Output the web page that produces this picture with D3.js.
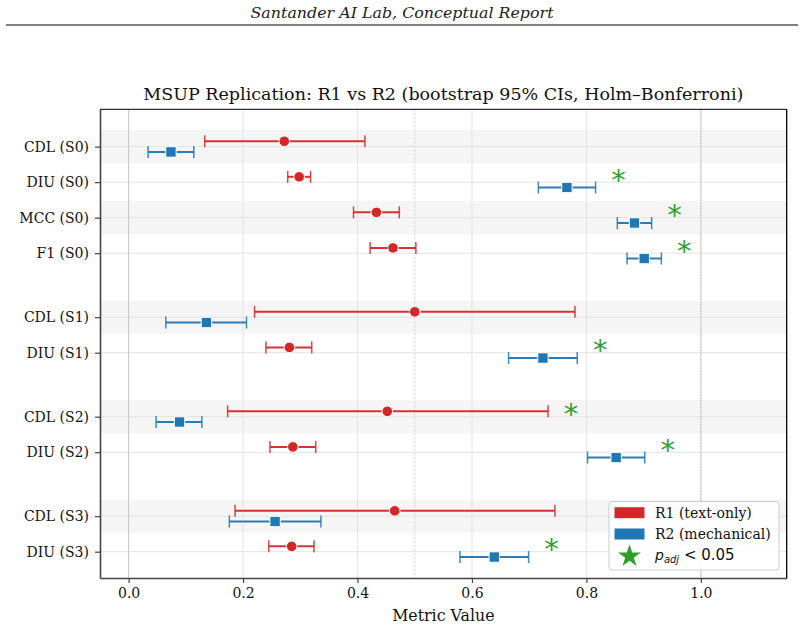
<!DOCTYPE html>
<html>
<head>
<meta charset="utf-8">
<script src="https://cdn.jsdelivr.net/npm/d3@7"></script>
<style>
  html, body { margin: 0; padding: 0; background: #fff; }
  svg { display: block; }
</style>
</head>
<body>
<div id="chart"></div>
<script>
// ---------- data ----------
const labels = ["CDL (S0)","DIU (S0)","MCC (S0)","F1 (S0)","CDL (S1)","DIU (S1)","CDL (S2)","DIU (S2)","CDL (S3)","DIU (S3)"];
const groups = ["S0","S0","S0","S0","S1","S1","S2","S2","S3","S3"];
const r1Mean = [0.272,0.298,0.433,0.462,0.500,0.281,0.452,0.287,0.465,0.285];
const r1Lo   = [0.133,0.278,0.393,0.422,0.220,0.240,0.173,0.247,0.186,0.245];
const r1Hi   = [0.413,0.318,0.473,0.502,0.780,0.320,0.733,0.327,0.745,0.324];
const r2Mean = [0.074,0.766,0.884,0.901,0.136,0.724,0.089,0.852,0.256,0.639];
const r2Lo   = [0.034,0.716,0.854,0.871,0.065,0.664,0.048,0.802,0.176,0.579];
const r2Hi   = [0.114,0.816,0.914,0.931,0.206,0.784,0.128,0.902,0.336,0.699];
const significant = [false,true,true,true,false,true,true,true,false,true];
const xTicks = [0.0,0.2,0.4,0.6,0.8,1.0];
const seriesNames = ["R1 (text-only)","R2 (mechanical)"];
const title = "MSUP Replication: R1 vs R2 (bootstrap 95% CIs, Holm\u2013Bonferroni)";
const header = "Santander AI Lab, Conceptual Report";
const xLabel = "Metric Value";

// ---------- layout ----------
const W = 804, H = 628;
const C1 = "#d62728", C2 = "#1f77b4", CG = "#2ca02c";
const serif = "'DejaVu Serif', serif";
const sans = "'DejaVu Sans', sans-serif";
const GROUP_GAP = 0.8, OFF = 0.15;

// category positions with extra gap between groups
const pos = [];
labels.forEach((l, i) => {
  if (i === 0) pos.push(0);
  else pos.push(pos[i-1] + 1 + (groups[i] !== groups[i-1] ? GROUP_GAP : 0));
});

const svg = d3.select("#chart").append("svg").attr("width", W).attr("height", H);

const pL = 100, pR = 786.7, pT = 109.3, pB = 578;
const x = d3.scaleLinear().domain([-0.05, 1.15]).range([pL, pR]);
const y = d3.scaleLinear().domain([-1.05, 12.14]).range([pT, pB]);

// header
svg.append("text").attr("x", 402).attr("y", 18).attr("text-anchor", "middle")
  .attr("font-family", serif).attr("font-style", "italic").attr("font-size", 14.5)
  .attr("textLength", 303).attr("lengthAdjust", "spacingAndGlyphs")
  .attr("fill", "#222").text(header);
svg.append("line").attr("x1", 6).attr("x2", 798).attr("y1", 25).attr("y2", 25)
  .attr("stroke", "#000").attr("stroke-width", 1.2);

// plot clip
svg.append("defs").append("clipPath").attr("id", "clip")
  .append("rect").attr("x", pL).attr("y", pT).attr("width", pR-pL).attr("height", pB-pT);
const plot = svg.append("g").attr("clip-path", "url(#clip)");

// alternating bands
plot.selectAll("rect.band").data(pos.filter((p, i) => i % 2 === 0)).enter()
  .append("rect").attr("class", "band")
  .attr("x", pL).attr("width", pR-pL)
  .attr("y", d => y(d - 0.47)).attr("height", d => y(d + 0.47) - y(d - 0.47))
  .attr("fill", "#f5f5f5");

// grid
plot.selectAll("line.hg").data(pos).enter().append("line")
  .attr("x1", pL).attr("x2", pR).attr("y1", d => y(d)).attr("y2", d => y(d))
  .attr("stroke", "#e3e3e3").attr("stroke-width", 1);
plot.selectAll("line.vg").data(xTicks).enter().append("line")
  .attr("x1", d => x(d)).attr("x2", d => x(d)).attr("y1", pT).attr("y2", pB)
  .attr("stroke", "#e3e3e3").attr("stroke-width", 1);
// reference lines
plot.append("line").attr("x1", x(0)).attr("x2", x(0)).attr("y1", pT).attr("y2", pB)
  .attr("stroke", "#c8c8c8").attr("stroke-width", 1);
plot.append("line").attr("x1", x(0.5)).attr("x2", x(0.5)).attr("y1", pT).attr("y2", pB)
  .attr("stroke", "#cfcfcf").attr("stroke-width", 1).attr("stroke-dasharray", "2,2");
plot.append("line").attr("x1", x(1.0)).attr("x2", x(1.0)).attr("y1", pT).attr("y2", pB)
  .attr("stroke", "#bdbdbd").attr("stroke-width", 1).attr("stroke-dasharray", "2,1");

// error bars
function errbars(lo, hi, mean, off, color, shape) {
  const g = plot.append("g");
  const yy = i => y(pos[i] + off);
  lo.forEach((v, i) => {
    g.append("line").attr("x1", x(lo[i])).attr("x2", x(hi[i])).attr("y1", yy(i)).attr("y2", yy(i))
      .attr("stroke", color).attr("stroke-width", 2).attr("opacity", 0.95);
    [lo[i], hi[i]].forEach(c => {
      g.append("line").attr("x1", x(c)).attr("x2", x(c)).attr("y1", yy(i) - 6).attr("y2", yy(i) + 6)
        .attr("stroke", color).attr("stroke-width", 1.5).attr("opacity", 0.85);
    });
    if (shape === "circle") {
      g.append("circle").attr("cx", x(mean[i])).attr("cy", yy(i)).attr("r", 5.3)
        .attr("fill", color).attr("stroke", "#fff").attr("stroke-width", 1);
    } else {
      g.append("rect").attr("x", x(mean[i]) - 5.2).attr("y", yy(i) - 5.2).attr("width", 10.4).attr("height", 10.4)
        .attr("fill", color).attr("stroke", "#fff").attr("stroke-width", 1);
    }
  });
}
errbars(r1Lo, r1Hi, r1Mean, -OFF, C1, "circle");
errbars(r2Lo, r2Hi, r2Mean, OFF, C2, "square");

// significance asterisks
labels.forEach((l, i) => {
  if (!significant[i]) return;
  const xs = Math.max(r1Hi[i], r2Hi[i]) + 0.04;
  plot.append("text").attr("x", x(xs)).attr("y", y(pos[i] - OFF) + 13)
    .attr("text-anchor", "middle").attr("font-family", sans).attr("font-size", 29)
    .attr("fill", CG).text("*");
});

// axes frame
svg.append("line").attr("x1", pL).attr("x2", pR).attr("y1", pT).attr("y2", pT).attr("stroke", "#000").attr("stroke-width", 1);
svg.append("line").attr("x1", pR).attr("x2", pR).attr("y1", pT).attr("y2", pB).attr("stroke", "#000").attr("stroke-width", 1.3);

// y axis
const yAxis = d3.axisLeft(y).tickValues(pos).tickFormat((d, i) => labels[i]).tickSize(5).tickSizeOuter(0).tickPadding(6);
const gy = svg.append("g").attr("transform", `translate(${pL},0)`).call(yAxis);
gy.select(".domain").attr("stroke", "#444").attr("stroke-width", 1.6);
gy.selectAll(".tick line").attr("stroke", "#444").attr("stroke-width", 1.2);
gy.selectAll(".tick text").attr("font-family", serif).attr("font-size", 14).attr("fill", "#111");

// x axis
const xAxis = d3.axisBottom(x).tickValues(xTicks).tickFormat(d3.format(".1f")).tickSize(5).tickSizeOuter(0).tickPadding(5);
const gx = svg.append("g").attr("transform", `translate(0,${pB})`).call(xAxis);
gx.select(".domain").attr("stroke", "#444").attr("stroke-width", 1.6);
gx.selectAll(".tick line").attr("stroke", "#444").attr("stroke-width", 1.2);
gx.selectAll(".tick text").attr("font-family", serif).attr("font-size", 14).attr("fill", "#111");

// title & x label
svg.append("text").attr("x", (pL + pR) / 2).attr("y", 100).attr("text-anchor", "middle")
  .attr("font-family", serif).attr("font-size", 17.5).attr("fill", "#111").text(title);
svg.append("text").attr("x", (pL + pR) / 2).attr("y", 621).attr("text-anchor", "middle")
  .attr("font-family", serif).attr("font-size", 15.8).attr("fill", "#111").text(xLabel);

// legend
const lg = svg.append("g");
lg.append("rect").attr("x", 609).attr("y", 501.5).attr("width", 170).attr("height", 68.5).attr("rx", 3)
  .attr("fill", "#fff").attr("fill-opacity", 0.85).attr("stroke", "#ccc").attr("stroke-width", 1);
const rowY = [512.7, 534, 555.3];
[C1, C2].forEach((c, i) => {
  lg.append("rect").attr("x", 614.5).attr("y", rowY[i] - 5.5).attr("width", 30).attr("height", 11).attr("fill", c);
  lg.append("text").attr("x", 655).attr("y", rowY[i]).attr("dy", "0.35em")
    .attr("font-family", serif).attr("font-size", 14).attr("fill", "#111").text(seriesNames[i]);
});
lg.append("path").attr("d", d3.symbol().type(d3.symbolStar).size(160)())
  .attr("transform", `translate(629.5,${rowY[2] + 1})`).attr("fill", CG);
const pt = lg.append("text").attr("x", 655).attr("y", rowY[2]).attr("dy", "0.35em")
  .attr("font-family", sans).attr("font-size", 14).attr("fill", "#111");
pt.append("tspan").attr("font-style", "italic").text("p");
pt.append("tspan").attr("font-style", "italic").attr("font-size", 10).attr("dy", 3).text("adj");
pt.append("tspan").attr("dy", -3).attr("font-size", 15).text(" < 0.05");
</script>
</body>
</html>
